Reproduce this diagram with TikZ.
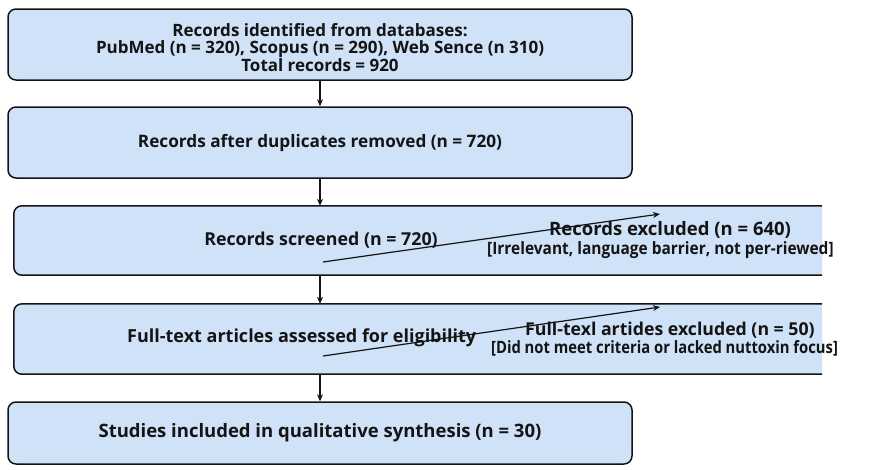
\documentclass[tikz,border=0pt]{standalone}
\usepackage{fontspec}
\setmainfont{Open Sans}
\usetikzlibrary{arrows.meta}

\definecolor{boxblue}{RGB}{207,226,248}
\definecolor{ink}{RGB}{20,20,20}

\tikzset{
  flowbox/.style={draw=ink, line width=1.5pt, fill=boxblue, rounded corners=8pt,
    inner sep=0pt, align=center, text=ink},
  openbox/.style={inner sep=0pt, draw=none},
  plaintext/.style={inner sep=0pt, text=ink, align=center},
  bigtext/.style={plaintext, font=\bfseries\fontsize{18}{20}\selectfont},
  notetext/.style={plaintext, anchor=west},
  flowarrow/.style={draw=ink, line width=1.2pt, -{Stealth[length=7pt,width=6pt]}},
}

\begin{document}
\begin{tikzpicture}[x=1pt, y=-1pt]
\useasboundingbox (0,0) rectangle (884,469);

% main boxes of the flow
\node[flowbox, minimum width=624pt, minimum height=71pt] (ident) at (320,44.5) {};
\node[plaintext, font=\bfseries\fontsize{17}{17.5}\selectfont] (identtxt) at (320,47.5)
  {Records identified from databases:\\
   PubMed (n = 320), Scopus (n = 290), Web Sence (n 310)\\
   Total records = 920};
\node[flowbox, minimum width=624pt, minimum height=71pt,
      font=\bfseries\fontsize{17.2}{20}\selectfont] (dedup) at (320,142.5)
  {Records after duplicates removed (n = 720)};
\node[openbox, minimum width=808pt, minimum height=69pt] (screen) at (418,240.5) {};
\node[openbox, minimum width=808pt, minimum height=70pt] (full) at (418,339) {};
\node[flowbox, minimum width=624pt, minimum height=62pt,
      font=\bfseries\fontsize{18.5}{20}\selectfont] (incl) at (320,433)
  {Studies included in qualitative synthesis (n = 30)};

% boxes open on the right: rounded on the left only
\foreach \b in {screen, full} {
  \fill[boxblue] (\b.north east) [rounded corners=8pt] -- (\b.north west)
    -- (\b.south west) [sharp corners] -- (\b.south east) -- cycle;
  \draw[ink, line width=1.5pt] (\b.north east) [rounded corners=8pt] -- (\b.north west)
    -- (\b.south west) [sharp corners] -- (\b.south east);
}

% texts of the open boxes
\node[bigtext, font=\bfseries\fontsize{17.8}{20}\selectfont] (screentxt) at (321,240)
  {Records screened (n = 720)};
\node[notetext, font=\bfseries\fontsize{18.5}{20}\selectfont] (exclA) at (549,230)
  {Records excluded (n = 640)};
\node[notetext, font=\bfseries\fontsize{17}{19}\selectfont] (exclB) at (487,250)
  {\scalebox{0.91}[1]{[Irrelevant, language barrier, not per-riewed]}};
\node[bigtext, anchor=west] (fulltxt) at (127,338)
  {Full-text articles assessed for eligibility};
\node[notetext, font=\bfseries\fontsize{17.7}{20}\selectfont] (exfA) at (525,330)
  {Full-texl artides excluded (n = 50)};
\node[notetext, font=\bfseries\fontsize{17}{19}\selectfont] (exfB) at (491,348)
  {\scalebox{0.87}[1]{[Did not meet criteria or lacked nuttoxin focus]}};

% vertical flow arrows
\draw[flowarrow] (ident.south) -- (dedup.north);
\draw[flowarrow] (dedup.south) -- (dedup.south |- screen.north);
\draw[flowarrow] (dedup.south |- screen.south) -- (dedup.south |- full.north);
\draw[flowarrow] (dedup.south |- full.south) -- (incl.north);

% exclusion arrows
\coordinate (s3) at (323,262);
\coordinate (e3) at (660,214);
\coordinate (s4) at (323,356);
\coordinate (e4) at (660,307);
\draw[flowarrow] (s3) -- (e3);
\draw[flowarrow] (s4) -- (e4);
\end{tikzpicture}
\end{document}
